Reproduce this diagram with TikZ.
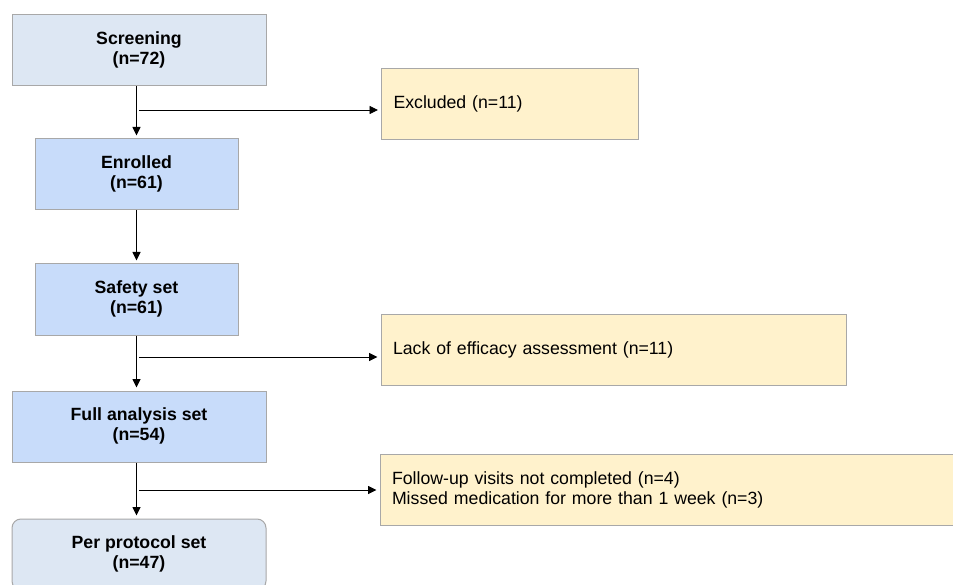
\documentclass[tikz,border=0pt]{standalone}
\usepackage{fontspec}
\setmainfont{Liberation Sans}
\usetikzlibrary{arrows.meta}
\definecolor{bluegrey}{HTML}{DDE7F3}
\definecolor{bluemain}{HTML}{C8DCFA}
\definecolor{yellowbox}{HTML}{FFF2CC}
\definecolor{bordergrey}{HTML}{A8A8A8}
\newcommand{\twolines}[2]{\raisebox{-1.5pt}{\begin{tabular}{@{}c@{}}\textbf{#1}\\\textbf{#2}\end{tabular}}}
\begin{document}
\begin{tikzpicture}[x=1pt,y=-1pt,
  every node/.style={font=\fontsize{17.7}{20.5}\selectfont, inner sep=0pt},
  mainbox/.style={draw=bordergrey, line width=1pt, fill=bluemain, align=center},
  greybox/.style={draw=bordergrey, line width=1pt, fill=bluegrey, align=center},
  exclbox/.style={draw=bordergrey, line width=1pt, fill=yellowbox, align=left},
  conn/.style={draw=black, line width=0.9pt, shorten >=3pt, -{Triangle[length=8.5pt,width=8pt]}},
  ]
\useasboundingbox (0,0) rectangle (953,585);
\fill[white] (0,0) rectangle (953,585);
% left column
\node[greybox, minimum width=254pt, minimum height=71pt] (scr) at (139,50.5) {\twolines{Screening}{(n=72)}};
\node[mainbox, minimum width=203pt, minimum height=71pt] (enr) at (136.5,174.5) {\twolines{Enrolled}{(n=61)}};
\node[mainbox, minimum width=203pt, minimum height=71pt] (saf) at (136.5,299.5) {\twolines{Safety set}{(n=61)}};
\node[mainbox, minimum width=254pt, minimum height=71pt] (fas) at (139,426.5) {\twolines{Full analysis set}{(n=54)}};
\node[greybox, rounded corners=9pt, minimum width=254pt, minimum height=71pt] (pps) at (139,554.5) {\twolines{Per protocol set}{(n=47)}};
% right column
\node[exclbox, minimum width=257pt, minimum height=71pt, text width=233pt] (ex1) at (510,104) {\raisebox{-1.5pt}{Excluded (n=11)}};
\node[exclbox, minimum width=465pt, minimum height=70pt, text width=441pt] (ex2) at (613.5,350) {\raisebox{-1.5pt}{Lack of efficacy assessment (n=11)}};
\node[exclbox, minimum width=620pt, minimum height=71pt, text width=596pt] (ex3) at (690,490) {Follow-up visits not completed (n=4)\\Missed medication for more than 1 week (n=3)};
% vertical connectors
\draw[conn] (enr.north |- scr.south) -- (enr.north);
\draw[conn] (enr.south) -- (saf.north);
\draw[conn] (saf.south) -- (saf.south |- fas.north);
\draw[conn] (saf.south |- fas.south) -- (saf.south |- pps.north);
% branches
\coordinate (b1) at (139,110);
\coordinate (b2) at (139,357);
\coordinate (b3) at (139,490);
\draw[conn] (b1) -- (b1 -| ex1.west);
\draw[conn] (b2) -- (b2 -| ex2.west);
\draw[conn] (b3) -- (b3 -| ex3.west);
\end{tikzpicture}
\end{document}
